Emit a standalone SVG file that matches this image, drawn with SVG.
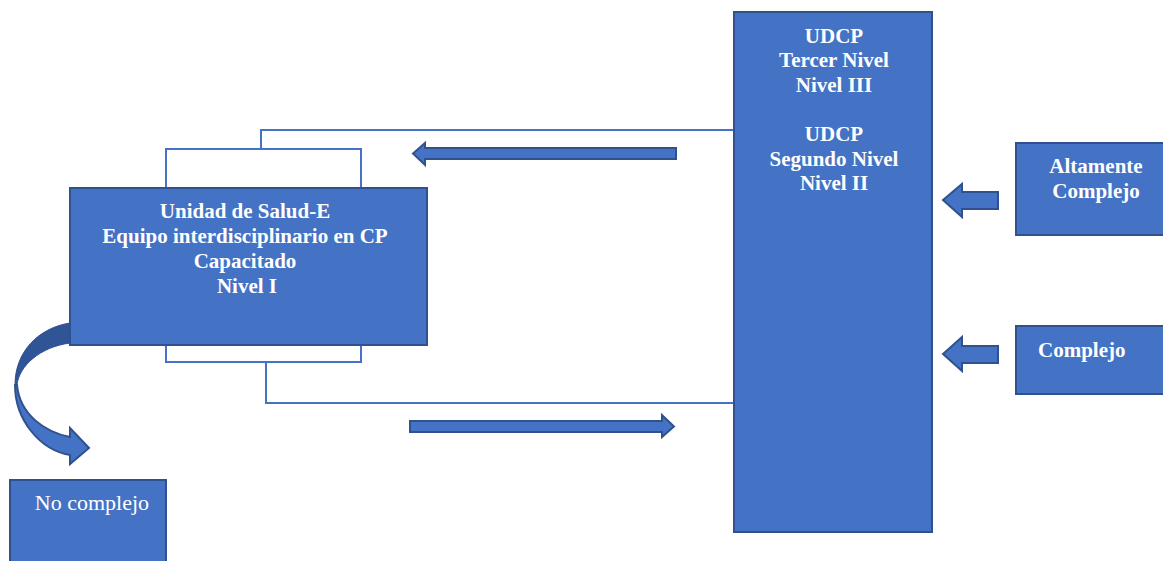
<svg xmlns="http://www.w3.org/2000/svg" width="1163" height="561" viewBox="0 0 1163 561">
<style>
.box{fill:#4472C4;stroke:#2F528F;stroke-width:2}
.arr{fill:#4472C4;stroke:#2F528F;stroke-width:2;stroke-linejoin:miter}
.ln{fill:none;stroke:#4472C4;stroke-width:2}
.tb{font-family:"Liberation Serif",serif;font-weight:bold;font-size:21px;fill:#fff;text-anchor:middle}
.tr{font-family:"Liberation Serif",serif;font-size:22px;fill:#fff;text-anchor:middle}
</style>
<rect width="1163" height="561" fill="#fff"/>
<g id="connectors">
<path class="ln" d="M166,188 V149 H361 V188 M261,149 V130 H734"/>
<path class="ln" d="M166,345 V362 H361 V345 M266,362 V403 H734"/>
<path class="arr" d="M676,148 V159 H425 V165 L413,153.5 L425,143 V148 Z"/>
<path class="arr" d="M410,421 V432 H662 V437 L674,426.5 L662,415 V421 Z"/>
<path class="arr" d="M998,192 V209 H962 V217 L943,200 L962,184 V192 Z"/>
<path class="arr" d="M998,346 V363 H962 V371 L943,354 L962,337 V346 Z"/>
<path fill="#2F5597" stroke="#2F528F" stroke-width="1" d="M70,323 C38,328 15,352 15,385 L17,385 C19,366 40,347 70,343 Z"/>
<path class="arr" d="M15,385 C15,420 40,450 70,455 L70,464 L89,448 L70,428 L70,437 C45,432 20,415 17,385 Z"/>
</g>
<g id="n-main">
<rect class="box" x="70" y="188" width="357" height="157"/>
<text class="tb" x="245" y="218">Unidad de Salud-E</text>
<text class="tb" x="245" y="243">Equipo interdisciplinario en CP</text>
<text class="tb" x="245" y="268">Capacitado</text>
<text class="tb" x="247" y="293">Nivel I</text>
</g>
<g id="n-udcp">
<rect class="box" x="734" y="12" width="198" height="520"/>
<text class="tb" x="834" y="43">UDCP</text>
<text class="tb" x="834" y="67">Tercer Nivel</text>
<text class="tb" x="834" y="92">Nivel III</text>
<text class="tb" x="834" y="141">UDCP</text>
<text class="tb" x="834" y="166">Segundo Nivel</text>
<text class="tb" x="834" y="190">Nivel II</text>
</g>
<g id="n-altamente">
<rect class="box" x="1016" y="143" width="150" height="92"/>
<text class="tb" x="1096" y="173">Altamente</text>
<text class="tb" x="1096" y="198">Complejo</text>
</g>
<g id="n-complejo">
<rect class="box" x="1016" y="326" width="150" height="68"/>
<text class="tb" x="1038" y="357" style="text-anchor:start">Complejo</text>
</g>
<g id="n-nocomplejo">
<rect class="box" x="10" y="480" width="156" height="90"/>
<text class="tr" x="92" y="510">No complejo</text>
</g>
</svg>
